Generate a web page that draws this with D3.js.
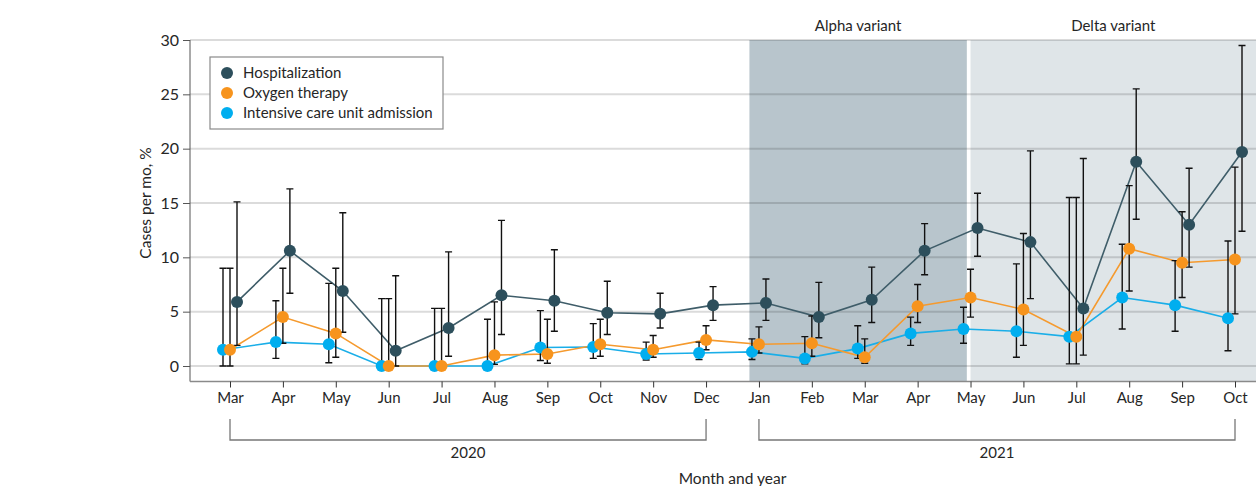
<!DOCTYPE html>
<html>
<head>
    <title>Cases per month</title>
    <script src="https://d3js.org/d3.v7.min.js"></script>
    <style>
        body { margin: 0; background: #fff; }
        svg text { font-family: Lato, "Liberation Sans", sans-serif; fill: #262626; }
        .grid line { stroke: rgba(0,0,0,0.14); stroke-width: 2px; }
        .err { stroke: #111; stroke-width: 1.4px; fill: none; }
        .series { fill: none; stroke-width: 1.6px; }
    </style>
</head>
<body>
    <script>
        var months = ["Mar", "Apr", "May", "Jun", "Jul", "Aug", "Sep", "Oct", "Nov", "Dec",
                      "Jan", "Feb", "Mar", "Apr", "May", "Jun", "Jul", "Aug", "Sep", "Oct"];
        var years = [{ label: "2020", from: 0, to: 9 }, { label: "2021", from: 10, to: 19 }];
        var variants = [{ label: "Alpha variant", from: 9.82, to: 13.93, fill: "#b8c5cc" },
                        { label: "Delta variant", from: 14.0, to: 19.4, fill: "#dfe5e8" }];
        var yTicks = [0, 5, 10, 15, 20, 25, 30];

        var hosp   = [5.9, 10.6, 6.9, 1.4, 3.5, 6.5, 6.0, 4.9, 4.8, 5.6, 5.8, 4.5, 6.1, 10.6, 12.7, 11.4, 5.3, 18.8, 13.0, 19.7];
        var hospLo = [1.9, 6.7, 3.1, 0, 0.9, 2.9, 3.2, 2.9, 3.5, 4.2, 4.2, 2.6, 4.0, 8.4, 10.1, 6.2, 1.0, 13.5, 9.1, 12.4];
        var hospHi = [15.1, 16.3, 14.1, 8.3, 10.5, 13.4, 10.7, 7.8, 6.7, 7.3, 8.0, 7.7, 9.1, 13.1, 15.9, 19.8, 19.1, 25.5, 18.2, 29.5];

        var oxy    = [1.5, 4.5, 3.0, 0, 0, 1.0, 1.1, 2.0, 1.5, 2.4, 2.0, 2.1, 0.8, 5.5, 6.3, 5.2, 2.7, 10.8, 9.5, 9.8];
        var oxyLo  = [0, 2.1, 0.8, 0, 0, 0.15, 0.25, 0.9, 0.8, 1.5, 1.2, 0.9, 0.25, 4.0, 4.5, 1.9, 0.2, 6.9, 6.3, 4.8];
        var oxyHi  = [9.0, 9.0, 9.0, 6.2, 5.3, 5.9, 4.3, 4.3, 2.8, 3.7, 3.6, 4.6, 2.5, 7.5, 8.9, 12.2, 15.5, 16.6, 14.2, 18.3];

        var icu    = [1.5, 2.2, 2.0, 0, 0, 0, 1.7, 1.75, 1.1, 1.2, 1.3, 0.7, 1.6, 3.0, 3.4, 3.2, 2.7, 6.3, 5.6, 4.4];
        var icuLo  = [0, 0.7, 0.3, 0, 0, 0, 0.5, 0.7, 0.55, 0.6, 0.6, 0.2, 0.7, 1.9, 2.1, 0.8, 0.2, 3.4, 3.2, 1.4];
        var icuHi  = [9.0, 6.0, 7.6, 6.2, 5.3, 4.3, 5.1, 3.9, 2.2, 2.2, 2.5, 2.7, 3.7, 4.5, 5.4, 9.4, 15.5, 11.2, 9.7, 11.5];

        var series = [
            { name: "Intensive care unit admission", color: "#00aeef", line: "#1aaee8", shift: -7, v: icu, lo: icuLo, hi: icuHi },
            { name: "Oxygen therapy", color: "#f7941d", line: "#f59a2e", shift: 0, v: oxy, lo: oxyLo, hi: oxyHi },
            { name: "Hospitalization", color: "#2d4f5c", line: "#3f5d69", shift: 7, v: hosp, lo: hospLo, hi: hospHi }
        ];

        var width = 1256, height = 486;
        var left = 190, right = 1256;

        var svg = d3.select("body").append("svg")
            .attr("width", width)
            .attr("height", height);

        var x = d3.scaleLinear().domain([0, 19]).range([230, 1235]);
        var y = d3.scaleLinear().domain([0, 30]).range([366, 40]);
        var axisY = y(0) + 15.5;

        // variant bands
        svg.selectAll(".band")
            .data(variants)
            .enter().append("rect")
            .attr("x", function(d) { return x(d.from); })
            .attr("y", y(30))
            .attr("width", function(d) { return Math.min(x(d.to), right) - x(d.from); })
            .attr("height", axisY - y(30))
            .attr("fill", function(d) { return d.fill; });

        svg.selectAll(".bandlabel")
            .data(variants)
            .enter().append("text")
            .attr("x", function(d) { return (x(d.from) + Math.min(x(d.to), right)) / 2; })
            .attr("y", 31)
            .attr("text-anchor", "middle")
            .style("font-size", "15px")
            .text(function(d) { return d.label; });

        // gridlines
        svg.append("g").attr("class", "grid")
            .selectAll("line")
            .data(yTicks)
            .enter().append("line")
            .attr("x1", left).attr("x2", right)
            .attr("y1", function(d) { return y(d); })
            .attr("y2", function(d) { return y(d); });

        // y axis
        var yAxis = svg.append("g")
            .attr("transform", "translate(" + left + ",0)")
            .call(d3.axisLeft(y).tickValues(yTicks).tickSize(7).tickPadding(4));
        yAxis.select(".domain").attr("d", "M0," + y(30) + "V" + axisY).attr("stroke", "#555");
        yAxis.selectAll(".tick line").attr("stroke", "#555");
        yAxis.selectAll(".tick text").style("font-size", "16px").attr("fill", "#262626");

        svg.append("text")
            .attr("transform", "translate(151," + y(15) + ") rotate(-90)")
            .attr("text-anchor", "middle")
            .style("font-size", "15.5px")
            .text("Cases per mo, %");

        // x axis
        var xAxis = svg.append("g")
            .attr("transform", "translate(0," + axisY + ")")
            .call(d3.axisBottom(x).tickValues(d3.range(months.length)).tickSize(6).tickPadding(5)
                .tickFormat(function(i) { return months[i]; }));
        xAxis.select(".domain").attr("d", "M" + left + ",0H" + right).attr("stroke", "#8a8a8a").attr("stroke-width", 1.6);
        xAxis.selectAll(".tick line").attr("stroke", "#333");
        xAxis.selectAll(".tick text").style("font-size", "15px").attr("fill", "#262626");

        // year brackets
        var br = svg.selectAll(".year")
            .data(years)
            .enter().append("g");
        br.append("path")
            .attr("fill", "none")
            .attr("stroke", "#777")
            .attr("stroke-width", 1.3)
            .attr("d", function(d) {
                return "M" + x(d.from) + ",419V440H" + x(d.to) + "V419";
            });
        br.append("text")
            .attr("x", function(d) { return (x(d.from) + x(d.to)) / 2; })
            .attr("y", 458)
            .attr("text-anchor", "middle")
            .style("font-size", "15px")
            .text(function(d) { return d.label; });

        svg.append("text")
            .attr("x", (x(0) + x(19)) / 2)
            .attr("y", 484)
            .attr("text-anchor", "middle")
            .style("font-size", "15.5px")
            .text("Month and year");

        // lines
        series.forEach(function(s) {
            var line = d3.line()
                .x(function(d, i) { return x(i) + s.shift; })
                .y(function(d) { return y(d); });
            svg.append("path")
                .attr("class", "series")
                .attr("stroke", s.line)
                .attr("d", line(s.v));
        });

        // error bars
        series.forEach(function(s) {
            var g = svg.append("g").attr("class", "err");
            g.selectAll("path")
                .data(s.v)
                .enter().append("path")
                .attr("d", function(d, i) {
                    var cx = x(i) + s.shift, t = y(s.hi[i]), b = y(s.lo[i]);
                    return "M" + (cx - 3.5) + "," + t + "H" + (cx + 3.5)
                        + "M" + cx + "," + t + "V" + b
                        + "M" + (cx - 3.5) + "," + b + "H" + (cx + 3.5);
                });
        });

        // points
        series.forEach(function(s) {
            svg.append("g").selectAll("circle")
                .data(s.v)
                .enter().append("circle")
                .attr("cx", function(d, i) { return x(i) + s.shift; })
                .attr("cy", function(d) { return y(d); })
                .attr("r", 6)
                .attr("fill", s.color);
        });

        // legend
        var legend = svg.append("g").attr("transform", "translate(210,57)");
        legend.append("rect")
            .attr("width", 233).attr("height", 72)
            .attr("fill", "#fff").attr("stroke", "#8a8a8a").attr("stroke-width", 1.2);
        var items = legend.selectAll(".item")
            .data(series.slice().reverse())
            .enter().append("g")
            .attr("transform", function(d, i) { return "translate(17," + (16 + i * 20) + ")"; });
        items.append("circle").attr("r", 6).attr("fill", function(d) { return d.color; });
        items.append("text")
            .attr("x", 16).attr("dy", "0.35em")
            .style("font-size", "15px")
            .text(function(d) { return d.name; });
    </script>
</body>
</html>
